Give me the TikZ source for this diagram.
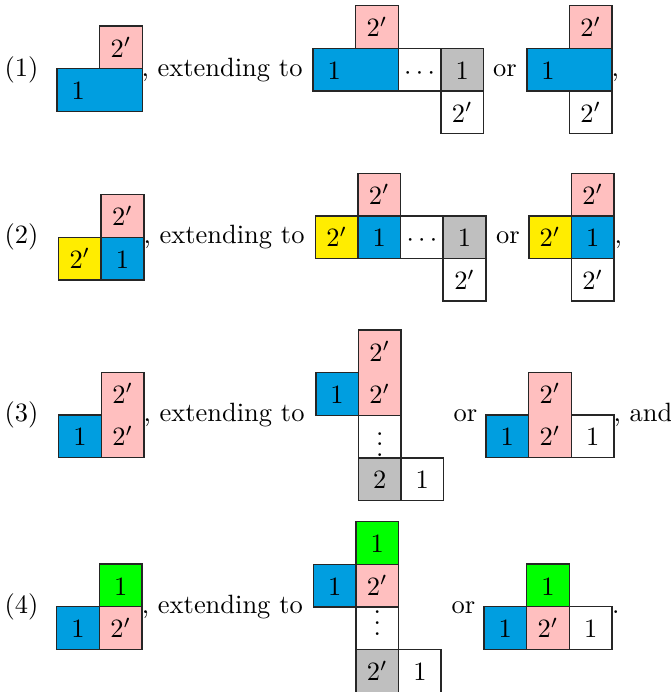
\documentclass[tikz,border=0pt]{standalone}
\definecolor{cblue}{RGB}{0,158,224}
\definecolor{cpink}{RGB}{255,191,191}
\definecolor{cyellow}{RGB}{255,237,0}
\definecolor{cgreen}{RGB}{0,255,0}
\definecolor{cgrey}{RGB}{191,191,191}
\tikzset{
  cellline/.style={draw=black!85,line width=0.6pt},
  lbl/.style={anchor=base,inner sep=0pt},
  txt/.style={anchor=base west,inner sep=0pt},
}
% cell grid size in px
\newcommand\cs{42.65}
% \sqc{i}{j}{fill}{label}
\newcommand\sqc[4]{%
  \path[cellline,fill=#3] (#1*\cs,#2*\cs) rectangle ({(#1+1)*\cs},{(#2+1)*\cs});
  \node[lbl] at ({(#1+0.5)*\cs},{(#2+0.5)*\cs+9.7}) {#4};}
% \rct{i}{j}{w}{h}{fill}
\newcommand\rct[5]{%
  \path[cellline,fill=#5] (#1*\cs,#2*\cs) rectangle ({(#1+#3)*\cs},{(#2+#4)*\cs});}
% \lab{i}{j}{label}
\newcommand\lab[3]{%
  \node[lbl] at ({(#1+0.5)*\cs},{(#2+0.5)*\cs+9.7}) {#3};}
\begin{document}
\begin{tikzpicture}[x=0.378pt,y=-0.378pt]
\useasboundingbox (0,0) rectangle (671,692);
% ---------- Row 1 ----------
\node[txt] (t1) at (4,77) {(1)};
\begin{scope}[shift={(57,26)}]
  \sqc{1}{0}{cpink}{$2'$}
  \rct{0}{1}{2}{1}{cblue}\lab{0}{1}{$1$}
\end{scope}
\node[txt] (e1) at (141,77) {, extending to};
\begin{scope}[shift={(313,5.7)}]
  \sqc{1}{0}{cpink}{$2'$}
  \rct{0}{1}{2}{1}{cblue}\lab{0}{1}{$1$}
  \sqc{2}{1}{white}{$\cdots$}
  \sqc{3}{1}{cgrey}{$1$}
  \sqc{3}{2}{white}{$2'$}
\end{scope}
\node[txt] (o1) at (492.5,77) {or};
\begin{scope}[shift={(526.7,5.7)}]
  \sqc{1}{0}{cpink}{$2'$}
  \rct{0}{1}{2}{1}{cblue}\lab{0}{1}{$1$}
  \sqc{1}{2}{white}{$2'$}
\end{scope}
\node[txt] (p1) at (611,77) {,};
% ---------- Row 2 ----------
\node[txt] (t2) at (4,244) {(2)};
\begin{scope}[shift={(58.5,194.7)}]
  \sqc{1}{0}{cpink}{$2'$}
  \sqc{0}{1}{cyellow}{$2'$}
  \sqc{1}{1}{cblue}{$1$}
\end{scope}
\node[txt] (e2) at (143,244) {, extending to};
\begin{scope}[shift={(315.3,173.3)}]
  \sqc{1}{0}{cpink}{$2'$}
  \sqc{0}{1}{cyellow}{$2'$}
  \sqc{1}{1}{cblue}{$1$}
  \sqc{2}{1}{white}{$\cdots$}
  \sqc{3}{1}{cgrey}{$1$}
  \sqc{3}{2}{white}{$2'$}
\end{scope}
\node[txt] (o2) at (495.5,244) {or};
\begin{scope}[shift={(528.7,173.3)}]
  \sqc{1}{0}{cpink}{$2'$}
  \sqc{0}{1}{cyellow}{$2'$}
  \sqc{1}{1}{cblue}{$1$}
  \sqc{1}{2}{white}{$2'$}
\end{scope}
\node[txt] (p2) at (614,244) {,};
% ---------- Row 3 ----------
\node[txt] (t3) at (4,421) {(3)};
\begin{scope}[shift={(58.7,372.3)}]
  \rct{1}{0}{1}{2}{cpink}\lab{1}{0}{$2'$}\lab{1}{1}{$2'$}
  \sqc{0}{1}{cblue}{$1$}
\end{scope}
\node[txt] (e3) at (143,421) {, extending to};
\begin{scope}[shift={(315.7,330)}]
  \rct{1}{0}{1}{2}{cpink}\lab{1}{0}{$2'$}\lab{1}{1}{$2'$}
  \sqc{0}{1}{cblue}{$1$}
  \rct{1}{2}{1}{1}{white}
  \sqc{1}{3}{cgrey}{$2$}
  \sqc{2}{3}{white}{$1$}
  \node[lbl] (v3) at ({1.5*\cs},{2*\cs+41}) {$\vdots$};
\end{scope}
\node[txt] (o3) at (453,421) {or};
\begin{scope}[shift={(486,372.3)}]
  \sqc{0}{1}{cblue}{$1$}
  \rct{1}{0}{1}{2}{cpink}\lab{1}{0}{$2'$}\lab{1}{1}{$2'$}
  \sqc{2}{1}{white}{$1$}
\end{scope}
\node[txt] (p3) at (613,421) {, and};
% ---------- Row 4 ----------
\node[txt] (t4) at (4,613) {(4)};
\begin{scope}[shift={(56.7,564)}]
  \sqc{1}{0}{cgreen}{$1$}
  \sqc{0}{1}{cblue}{$1$}
  \sqc{1}{1}{cpink}{$2'$}
\end{scope}
\node[txt] (e4) at (141.3,613) {, extending to};
\begin{scope}[shift={(313.3,521.7)}]
  \sqc{1}{0}{cgreen}{$1$}
  \sqc{0}{1}{cblue}{$1$}
  \sqc{1}{1}{cpink}{$2'$}
  \rct{1}{2}{1}{1}{white}
  \node[lbl] (v4) at ({1.5*\cs},{2*\cs+28}) {$\vdots$};
  \sqc{1}{3}{cgrey}{$2'$}
  \sqc{2}{3}{white}{$1$}
\end{scope}
\node[txt] (o4) at (451,613) {or};
\begin{scope}[shift={(484,564)}]
  \sqc{1}{0}{cgreen}{$1$}
  \sqc{0}{1}{cblue}{$1$}
  \sqc{1}{1}{cpink}{$2'$}
  \sqc{2}{1}{white}{$1$}
\end{scope}
\node[txt] (p4) at (611.5,613) {.};
\end{tikzpicture}
\end{document}
